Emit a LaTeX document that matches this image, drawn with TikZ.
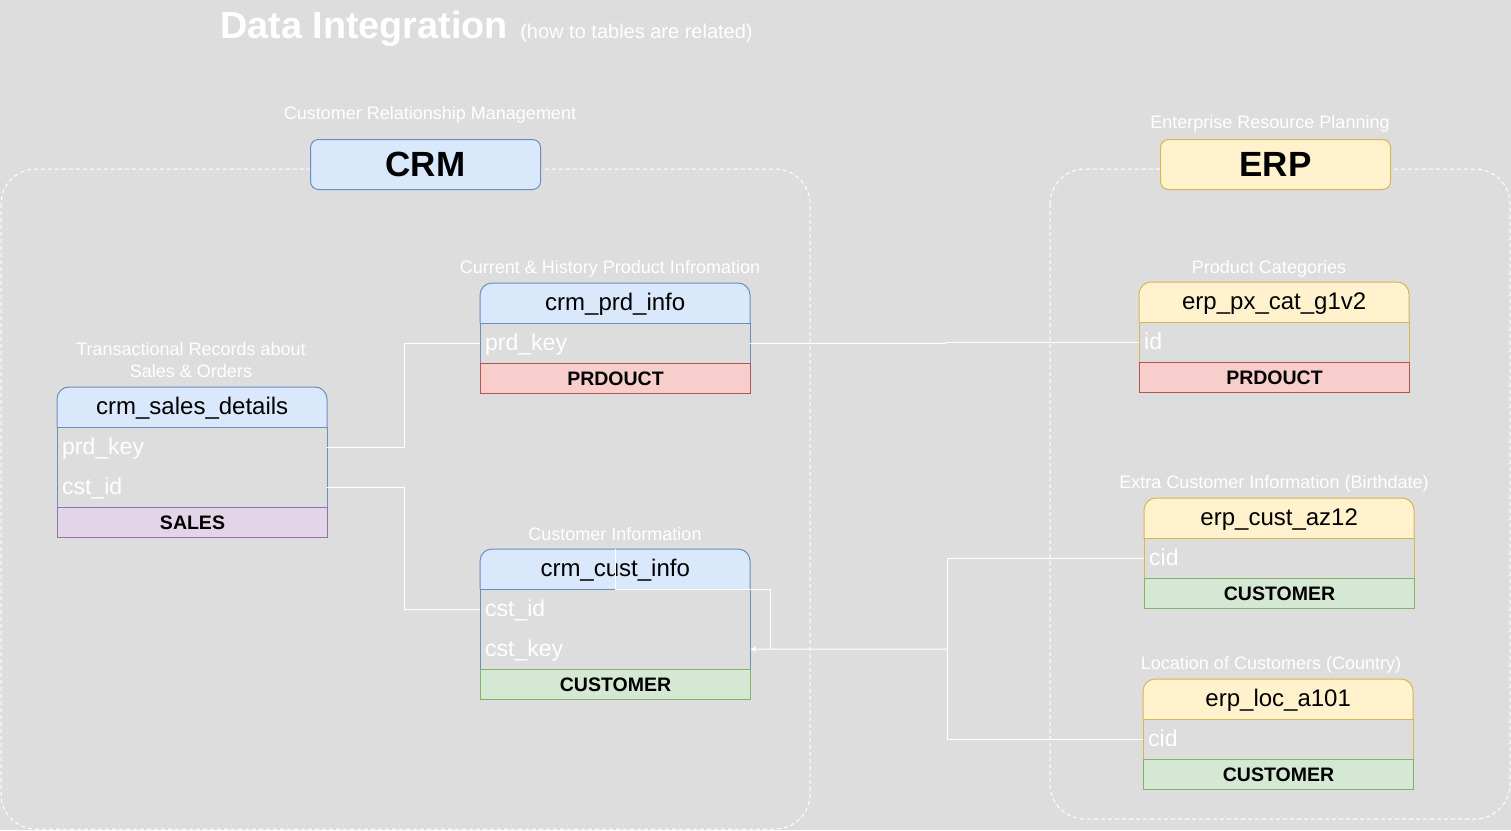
\documentclass[tikz,border=0pt]{standalone}
\usepackage{fontspec}
\setmainfont{Liberation Sans}
\usetikzlibrary{arrows.meta,calc}
\definecolor{bg}{RGB}{221,221,221}
\definecolor{bluef}{HTML}{DAE8FC}
\definecolor{blued}{HTML}{6C8EBF}
\definecolor{yelf}{HTML}{FFF2CC}
\definecolor{yeld}{HTML}{D6B656}
\definecolor{redf}{HTML}{F8CECC}
\definecolor{redd}{HTML}{B85450}
\definecolor{grnf}{HTML}{D5E8D4}
\definecolor{grnd}{HTML}{82B366}
\definecolor{purf}{HTML}{E1D5E7}
\definecolor{purd}{HTML}{9673A6}
\tikzset{
  lbl/.style={text=white, font=\fontsize{18}{22}\selectfont, inner sep=0pt, align=center},
  hdrtxt/.style={text=black, font=\fontsize{24}{28}\selectfont, minimum width=270pt, minimum height=40pt, inner sep=0pt, text height=16pt, text depth=2pt, anchor=north west},
  rowtxt/.style={text=white, font=\fontsize{23}{27}\selectfont, minimum width=270pt, minimum height=40pt, inner xsep=5pt, inner ysep=0pt, text width=260pt, text height=16pt, text depth=2pt, align=left, anchor=north west},
  foot/.style={text=black, font=\bfseries\fontsize{19.5}{22}\selectfont, minimum width=270pt, minimum height=30pt, inner sep=0pt, text height=14pt, text depth=0pt, anchor=north west, line width=1pt},
  conn/.style={draw=white, line width=1pt},
  cont/.style={draw=white, dash pattern=on 4pt off 3pt, line width=1pt, rounded corners=35pt},
  sysbox/.style={rounded corners=8pt, line width=1pt, minimum width=230pt, minimum height=50pt, inner sep=0pt, font=\bfseries\fontsize{35}{38}\selectfont, anchor=north west},
}
% header shape: x y fill draw
\newcommand{\hdrshape}[4]{%
  \fill[#3, rounded corners=12pt] (#1,#2) rectangle (#1+270,#2+40);
  \fill[#3] (#1,#2+20) rectangle (#1+270,#2+40);
  \draw[#4, line width=1pt, rounded corners=12pt] (#1,#2+40) -- (#1,#2) -- (#1+270,#2) -- (#1+270,#2+40);}
% body: x y rows draw
\newcommand{\bodyshape}[4]{%
  \draw[#4, line width=1pt] (#1,#2+40) rectangle (#1+270,#2+40+40*#3);}
\begin{document}
\begin{tikzpicture}[x=1pt,y=-1pt]
\fill[bg] (0,0) rectangle (1511,830);
\useasboundingbox (0,0) rectangle (1511,830);

% containers
\draw[cont] (1,169) rectangle (810,829);
\draw[cont] (1050,169) rectangle (1510,819);

% title
\node[anchor=base west, inner sep=0pt, text=white, font=\bfseries\fontsize{37.8}{40}\selectfont] (title) at (220,38) {Data Integration};
\node[anchor=base west, inner sep=0pt, text=white, font=\fontsize{20}{22}\selectfont] (subtitle) at ($(title.base east)+(12,0)$) {(how to tables are related)};

% system boxes
\node[sysbox, fill=bluef, draw=blued] (crm) at (310,139) {CRM};
\node[sysbox, fill=yelf, draw=yeld] (erp) at (1160,139) {ERP};
\node[lbl] (crmlbl) at (430,115) {Customer Relationship Management};
\node[lbl] (erplbl) at (1270,124) {Enterprise Resource Planning};

% crm_prd_info
\hdrshape{480}{283}{bluef}{blued}
\bodyshape{480}{283}{1}{blued}
\node[hdrtxt] (prdi) at (480,283) {crm\_prd\_info};
\node[rowtxt] (prdikey) at (480,323) {prd\_key};
\node[foot, fill=redf, draw=redd] (prdift) at (480,363) {PRDOUCT};
\node[lbl] (prdilbl) at (610,269) {Current \& History Product Infromation};

% crm_sales_details
\hdrshape{57}{387}{bluef}{blued}
\bodyshape{57}{387}{2}{blued}
\node[hdrtxt] (sales) at (57,387) {crm\_sales\_details};
\node[rowtxt] (salesprd) at (57,427) {prd\_key};
\node[rowtxt] (salescst) at (57,467) {cst\_id};
\node[foot, fill=purf, draw=purd] (salesft) at (57,507) {SALES};
\node[lbl] (saleslbl) at (191,360) {Transactional Records about\\[0pt]Sales \& Orders};

% crm_cust_info
\hdrshape{480}{549}{bluef}{blued}
\bodyshape{480}{549}{2}{blued}
\node[hdrtxt] (cust) at (480,549) {crm\_cust\_info};
\node[rowtxt] (custid) at (480,589) {cst\_id};
\node[rowtxt] (custkey) at (480,629) {cst\_key};
\node[foot, fill=grnf, draw=grnd] (custft) at (480,669) {CUSTOMER};
\node[lbl] (custlbl) at (615,534) {Customer Information};

% erp_px_cat_g1v2
\hdrshape{1139}{282}{yelf}{yeld}
\bodyshape{1139}{282}{1}{yeld}
\node[hdrtxt] (cat) at (1139,282) {erp\_px\_cat\_g1v2};
\node[rowtxt] (catid) at (1139,322) {id};
\node[foot, fill=redf, draw=redd] (catft) at (1139,362) {PRDOUCT};
\node[lbl] (catlbl) at (1269,269) {Product Categories};

% erp_cust_az12
\hdrshape{1144}{498}{yelf}{yeld}
\bodyshape{1144}{498}{1}{yeld}
\node[hdrtxt] (az) at (1144,498) {erp\_cust\_az12};
\node[rowtxt] (azcid) at (1144,538) {cid};
\node[foot, fill=grnf, draw=grnd] (azft) at (1144,578) {CUSTOMER};
\node[lbl] (azlbl) at (1274,484) {Extra Customer Information (Birthdate)};

% erp_loc_a101
\hdrshape{1143}{679}{yelf}{yeld}
\bodyshape{1143}{679}{1}{yeld}
\node[hdrtxt] (loc) at (1143,679) {erp\_loc\_a101};
\node[rowtxt] (loccid) at (1143,719) {cid};
\node[foot, fill=grnf, draw=grnd] (locft) at (1143,759) {CUSTOMER};
\node[lbl] (loclbl) at (1271,665) {Location of Customers (Country)};

% connectors
\draw[conn] (salesprd.east) -- ++(77,0) |- (prdikey.west);
\draw[conn] (salescst.east) -- ++(77,0) |- (custid.west);
\draw[conn] (prdikey.east) -- ++(195,0) |- (catid.west);
\coordinate (jn) at (947,649);
\draw[conn] (azcid.west) -| (jn);
\draw[conn] (loccid.west) -| (jn);
\draw[conn, -{Stealth[length=6pt,width=6pt]}] (jn) -- (custkey.east);
\draw[conn] (cust.north) -- ++(0,40) -| ($(custkey.east)+(20,0)$);
\end{tikzpicture}
\end{document}
